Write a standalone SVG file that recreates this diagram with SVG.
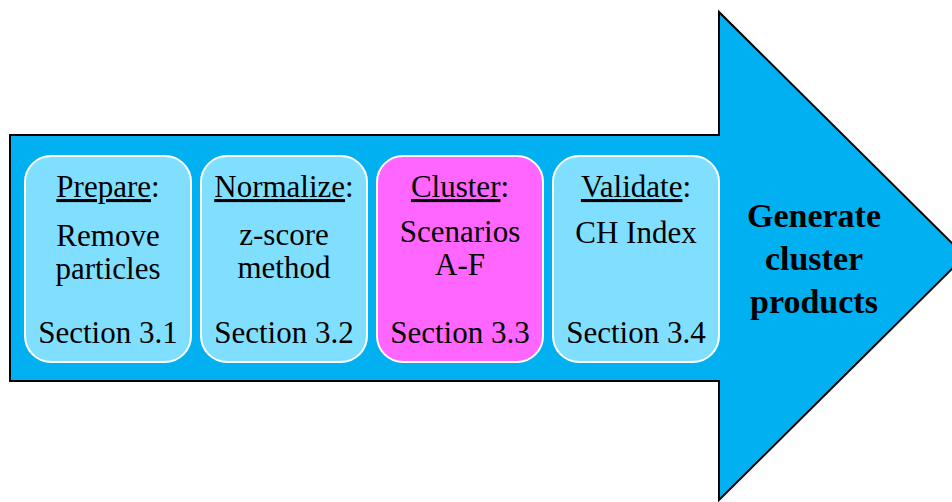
<svg xmlns="http://www.w3.org/2000/svg" width="952" height="502" viewBox="0 0 952 502">
<style>
.box{fill:#80DFFF;stroke:#FFFFFF;stroke-width:2}
.mag{fill:#FF66FF;stroke:#FFFFFF;stroke-width:2}
text{font-family:'Liberation Serif',Tinos,'Times New Roman','DejaVu Serif',serif;fill:#000;text-anchor:middle}
.t{font-size:31px}
.b{font-size:34px;font-weight:bold}
.u{text-decoration:underline}
</style>
<rect width="952" height="502" fill="#FFFFFF"/>
<g id="arrow">
<polygon points="10,135 719,135 719,12 965,256 719,500 719,381 10,381" fill="#00B0F0" stroke="#000" stroke-width="2" stroke-linejoin="miter"/>
<text class="b" x="814" y="227">Generate</text>
<text class="b" x="814" y="270">cluster</text>
<text class="b" x="814" y="313">products</text>
</g>
<g id="prepare">
<rect class="box" x="25" y="156" width="166" height="206" rx="26"/>
<text class="t" x="108" y="197"><tspan class="u">Prepare</tspan>:</text>
<text class="t" x="108" y="246">Remove</text>
<text class="t" x="108" y="279">particles</text>
<text class="t" x="108" y="343">Section 3.1</text>
</g>
<g id="normalize">
<rect class="box" x="201" y="156" width="166" height="206" rx="26"/>
<text class="t" x="284" y="197"><tspan class="u">Normalize</tspan>:</text>
<text class="t" x="284" y="245">z-score</text>
<text class="t" x="284" y="278">method</text>
<text class="t" x="284" y="343">Section 3.2</text>
</g>
<g id="cluster">
<rect class="mag" x="377" y="156" width="166" height="206" rx="26"/>
<text class="t" x="460" y="197"><tspan class="u">Cluster</tspan>:</text>
<text class="t" x="460" y="242">Scenarios</text>
<text class="t" x="460" y="275">A-F</text>
<text class="t" x="460" y="343">Section 3.3</text>
</g>
<g id="validate">
<rect class="box" x="553" y="156" width="166" height="206" rx="26"/>
<text class="t" x="636" y="197"><tspan class="u">Validate</tspan>:</text>
<text class="t" x="636" y="243">CH Index</text>
<text class="t" x="636" y="343">Section 3.4</text>
</g>
<g id="connectors"></g>
</svg>
